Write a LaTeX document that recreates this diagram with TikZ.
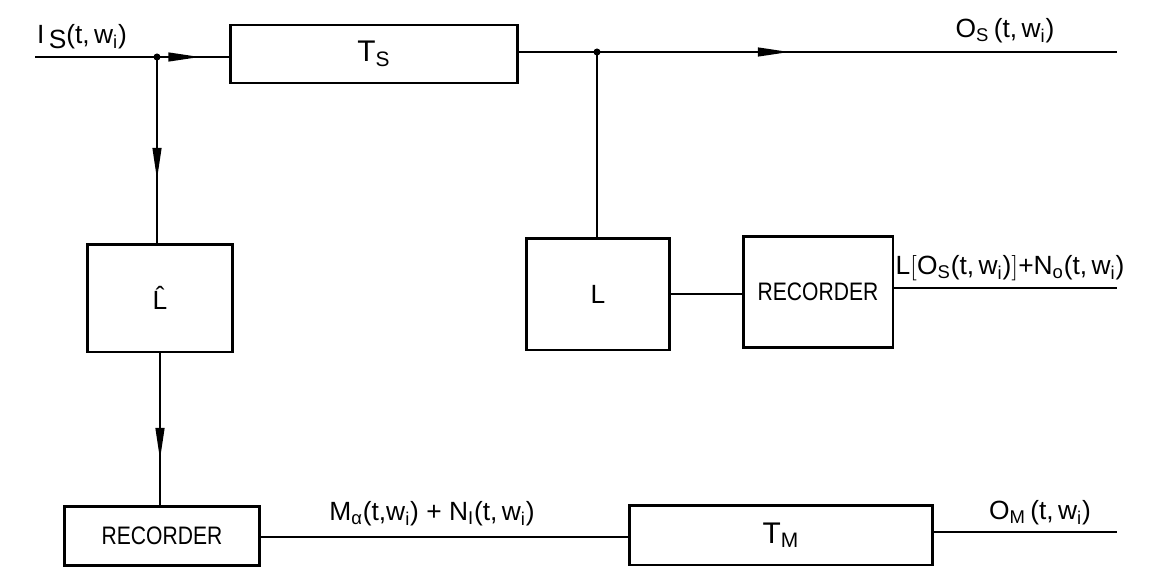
\documentclass[tikz,border=0pt]{standalone}
\usepackage{fontspec}
\setmainfont{Liberation Sans}
\usetikzlibrary{arrows.meta,decorations.markings}
\newcommand{\sub}[1]{\textsubscript{#1}}
\newcommand{\recname}{\scalebox{1}[1.2]{RECORDER}}
\tikzset{
  blk/.style={draw, line width=1.7pt, inner sep=0pt, font=\fontsize{12}{14}\selectfont},
  conn/.style={line width=1.1pt},
  arr/.style={postaction={decorate}, decoration={markings,
      mark=at position #1 with {\arrow{Triangle[length=18pt,width=5pt]}}}},
  lbl/.style={font=\fontsize{15}{18}\selectfont, inner sep=0pt},
  dot/.style={circle, fill, inner sep=0pt, minimum size=4pt}
}
\begin{document}
\begin{tikzpicture}[x=0.02cm, y=-0.02cm]
\useasboundingbox (0,0) rectangle (1156,568);
% blocks
\node[blk, minimum width=5.76cm, minimum height=1.16cm] (ts) at (374,54) {\fontsize{17}{20}\selectfont T\sub{S}};
\node[blk, minimum width=2.92cm, minimum height=2.16cm] (lhat) at (160,298) {\fontsize{15}{18}\selectfont \^{L}};
\node[blk, minimum width=2.86cm, minimum height=2.24cm] (lbox) at (598,294) {\fontsize{15}{18}\selectfont L};
\node[blk, minimum width=3.0cm, minimum height=2.22cm] (rec1) at (818,292) {\recname};
\node[blk, minimum width=3.9cm, minimum height=1.18cm] (rec2) at (162,536) {\recname};
\node[blk, minimum width=6.06cm, minimum height=1.2cm] (tm) at (781,535) {\fontsize{17}{20}\selectfont T\sub{M}};
% coordinates
\coordinate (in) at (35,57);
\coordinate (j1) at (157,57);
\coordinate (j2) at (597,52);
\coordinate (out1) at (1117,52);
\coordinate (out2) at (1117,288);
\coordinate (out3) at (1117,532);
% connectors
\draw[conn] (in) -- (j1);
\draw[conn, arr=0.6] (j1) -- (ts.west |- j1);
\draw[conn] (ts.east |- j2) -- (j2);
\draw[conn, arr=0.37] (j2) -- (out1);
\draw[conn, arr=0.66] (j1) -- (j1 |- lhat.north);
\draw[conn] (j2) -- (j2 |- lbox.north);
\draw[conn, arr=0.7] (lhat.south) -- (lhat.south |- rec2.north);
\draw[conn] (lbox.east) -- (rec1.west |- lbox.east);
\draw[conn] (rec1.east |- out2) -- (out2);
\draw[conn] (rec2.east |- 0,537) -- (tm.west |- 0,537);
\draw[conn] (tm.east |- out3) -- (out3);
\node[dot] (d1) at (j1) {};
\node[dot] (d2) at (j2) {};
% labels
\node[lbl] (lin) at (82,37) {I\,\raisebox{-0.35ex}{S}(t,\,w\sub{i})};
\node[lbl] (lo1) at (1005,31) {O\sub{S}\,(t,\,w\sub{i})};
\node[lbl] (lo2) at (1010,268) {L\big[O\sub{S}(t,\,w\sub{i})\big]+N\sub{o}(t,\,w\sub{i})};
\node[lbl] (lm) at (432,514) {M\sub{α}(t,w\sub{i}) + N\sub{I}(t,\,w\sub{i})};
\node[lbl] (lo3) at (1040,513) {O\sub{M}\,(t,\,w\sub{i})};
\end{tikzpicture}
\end{document}
